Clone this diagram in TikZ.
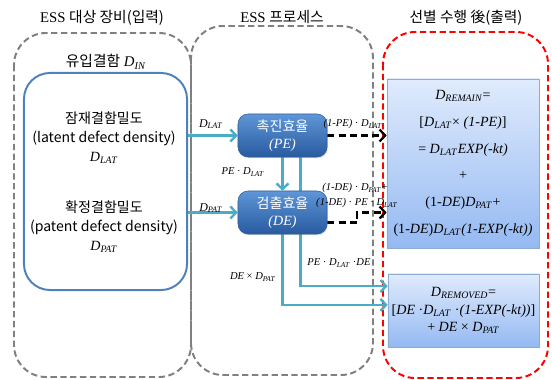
\documentclass[tikz,border=0pt]{standalone}
\usepackage{fontspec}
\setmainfont{Liberation Serif}
\newfontfamily\kr{Noto Sans CJK KR}
\usetikzlibrary{arrows.meta,backgrounds,shadows}
\definecolor{boxgray}{RGB}{128,128,128}
\definecolor{inblue}{RGB}{79,129,189}
\definecolor{flowteal}{RGB}{75,172,198}
\definecolor{pelight}{RGB}{95,150,215}
\definecolor{pedark}{RGB}{40,90,160}
\definecolor{peline}{RGB}{50,95,155}
\definecolor{outlight}{RGB}{224,235,253}
\definecolor{outdark}{RGB}{148,185,242}
\definecolor{outline}{RGB}{140,172,212}
\newcommand{\Dv}[1]{\textit{D}\textsubscript{\textit{#1}}}
\tikzset{
  stagebox/.style={draw=boxgray, line width=1.4pt, dash pattern=on 4.5pt off 2.5pt, rounded corners=0.8cm},
  outstage/.style={stagebox, draw=red},
  inbox/.style={draw=inblue, line width=1.4pt, rounded corners=0.65cm, minimum width=4.075cm, minimum height=5.425cm},
  effbox/.style={draw=peline, top color=pelight, bottom color=pedark, rounded corners=0.25cm, text=white,
    minimum width=2.225cm, minimum height=1.075cm, inner sep=1pt, align=center,
    font=\fontsize{10}{12.5}\selectfont, drop shadow={opacity=0.3,shadow xshift=0.6pt,shadow yshift=-0.8pt}},
  resbox/.style={draw=outline, top color=outlight, bottom color=outdark, align=center, inner sep=1pt,
    drop shadow={opacity=0.25,shadow xshift=0.8pt,shadow yshift=-0.8pt}},
  flow/.style={draw=flowteal, line width=1.7pt, -{Straight Barb[length=4pt,width=8.5pt]}},
  dflow/.style={draw=black, line width=1.6pt, dash pattern=on 5pt off 3pt, -{Straight Barb[length=4pt,width=8.5pt]}},
  flowlbl/.style={font=\fontsize{8.5}{10}\selectfont, inner sep=0pt},
  smalllbl/.style={font=\fontsize{7.5}{9}\selectfont, inner sep=0pt},
  title/.style={font=\fontsize{10.5}{12}\selectfont, inner sep=0pt}
}
\begin{document}
\begin{tikzpicture}[x=0.025cm,y=-0.025cm]
\useasboundingbox (0,0) rectangle (552,380);
\begin{pgfonlayer}{background}
\draw[stagebox] (14,33) rectangle (191,377); % input
\draw[stagebox] (191,26) rectangle (373,375); % process
\draw[outstage] (383,32) rectangle (548,378); % output
\end{pgfonlayer}
\node[title] (tin) at (102,18) {ESS {\kr 대상 장비(입력)}};
\node[title] (tproc) at (282,17) {ESS {\kr 프로세스}};
\node[title] (tout) at (466,18) {{\kr 선별 수행 後(출력)}};
% input defects
\node[inbox] (din) at (105.5,181.5) {};
\node[title] (dinlbl) at (106,62) {{\kr 유입결함} \Dv{IN}};
\node[align=center, font=\fontsize{10}{13.5}\selectfont] (lat) at (104,138) {{\kr 잠재결함밀도}\\{\kr (latent defect density)}\\\Dv{LAT}};
\node[align=center, font=\fontsize{10}{13.5}\selectfont] (pat) at (104,227) {{\kr 확정결함밀도}\\{\kr (patent defect density)}\\\Dv{PAT}};
% process
\node[effbox] (pe) at (282.5,135.5) {{\kr 촉진효율}\\\textit{(PE)}};
\node[effbox] (de) at (282.5,212.5) {{\kr 검출효율}\\\textit{(DE)}};
% output
\node[resbox, minimum width=3.8cm, minimum height=4.225cm, font=\fontsize{10}{19}\selectfont] (remain) at (463,163.5)
  {\Dv{REMAIN}=\\{[}\Dv{LAT}× \textit{(1-PE)}]\\= \Dv{LAT}\textit{EXP(-kt)}\\+\\(1-\textit{DE})\Dv{PAT}+\\(1-\textit{DE})\Dv{LAT}\textit{(1-EXP(-kt))}};
\node[resbox, minimum width=3.775cm, minimum height=1.825cm, font=\fontsize{10}{12.5}\selectfont] (removed) at (463.5,310.5)
  {\Dv{REMOVED}=\\{[}\textit{DE} ·\Dv{LAT} ·\textit{(1-EXP(-kt))}]\\+ \textit{DE} × \Dv{PAT}};
\begin{pgfonlayer}{background}
\draw[flow] (pe.west -| din.east) -- (pe.west);
\draw[flow] (de.west -| din.east) -- (de.west);
\draw[flow] (pe.south) -- (de.north);
\draw[flow] ([xshift=0.45cm]pe.south) |- ([yshift=0.61cm]removed.west);
\draw[flow] (de.south) |- ([yshift=0.14cm]removed.west);
\draw[dflow] (pe.east) -- (pe.east -| remain.west);
\draw[dflow] ([yshift=-0.25cm]de.east) -- ++(30,0) |- (de.east -| remain.west);
\end{pgfonlayer}
% connector labels
\node[flowlbl] (llat) at (211,124) {\Dv{LAT}};
\node[flowlbl] (lpat) at (211,208) {\Dv{PAT}};
\node[smalllbl] (lpelat) at (243,172) {\textit{PE} · \Dv{LAT}};
\node[smalllbl] (lnpe) at (353,124) {\textit{(1-PE)} · \Dv{LAT}};
\node[smalllbl] (lnde1) at (355,188) {\textit{(1-DE)} · \Dv{PAT}+};
\node[smalllbl] (lnde2) at (357,203) {\textit{(1-DE)} · \textit{PE} · \Dv{LAT}};
\node[smalllbl] (ldepat) at (253,277) {\textit{DE} × \Dv{PAT}};
\node[smalllbl] (lpedelat) at (339,263) {\textit{PE} · \Dv{LAT} ·\textit{DE}};
\end{tikzpicture}
\end{document}
